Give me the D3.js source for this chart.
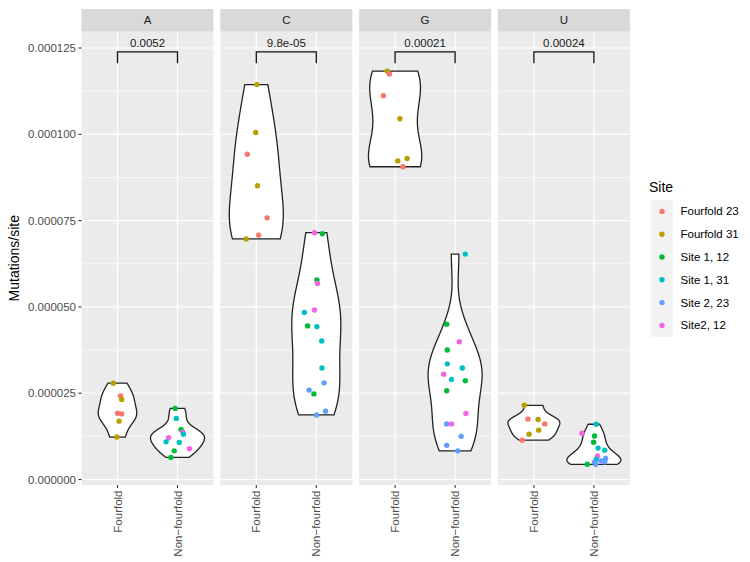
<!DOCTYPE html>
<html>
<head>
<meta charset="utf-8">
<script src="https://cdn.jsdelivr.net/npm/d3@7"></script>
<style>
  body { margin: 0; background: #fff; }
  text { font-family: "Liberation Sans", Arial, sans-serif; }
</style>
</head>
<body>
<div id="container"></div>
<script>
let w = 750;
let h = 562;

// categories
let bases = ["A", "C", "G", "U"];
let groups = ["Fourfold", "Non-fourfold"];
let sites = ["Fourfold 23", "Fourfold 31", "Site 1, 12", "Site 1, 31", "Site 2, 23", "Site2, 12"];
let siteColors = ["#F8766D", "#B79F00", "#00BA38", "#00BFC4", "#619CFF", "#F564E3"];
let pLabels = ["0.0052", "9.8e-05", "0.00021", "0.00024"];
let yTicks = [0, 0.000025, 0.00005, 0.000075, 0.0001, 0.000125];

// rows: [group, site, mutations/site, jitter (in category units)]
let ptsA = [
  [0,1,2.79e-5,-0.07],[0,0,2.42e-5,0.05],[0,1,2.32e-5,0.07],[0,0,1.92e-5,0.0],
  [0,0,1.90e-5,0.07],[0,1,1.69e-5,0.025],[0,1,1.23e-5,-0.01],
  [1,2,2.06e-5,-0.04],[1,3,1.77e-5,-0.02],[1,2,1.45e-5,0.06],[1,5,1.37e-5,0.09],
  [1,3,1.31e-5,0.10],[1,5,1.21e-5,-0.15],[1,3,1.09e-5,-0.19],[1,3,1.07e-5,0.03],
  [1,5,0.89e-5,0.20],[1,2,0.83e-5,-0.055],[1,2,0.64e-5,-0.11]
];
let ptsC = [
  [0,1,11.44e-5,0.01],[0,1,10.05e-5,-0.01],[0,0,9.42e-5,-0.15],[0,1,8.51e-5,0.02],
  [0,0,7.58e-5,0.18],[0,0,7.08e-5,0.04],[0,1,6.97e-5,-0.17],
  [1,5,7.15e-5,-0.03],[1,2,7.12e-5,0.10],[1,2,5.78e-5,0.01],[1,5,5.68e-5,0.02],
  [1,5,4.91e-5,-0.03],[1,3,4.84e-5,-0.20],[1,2,4.45e-5,-0.145],[1,3,4.43e-5,0.01],
  [1,3,4.01e-5,0.09],[1,3,3.23e-5,0.095],[1,4,2.80e-5,0.13],[1,4,2.59e-5,-0.12],
  [1,2,2.48e-5,-0.04],[1,4,1.98e-5,0.155],[1,4,1.87e-5,0.005]
];
let ptsG = [
  [0,1,11.83e-5,-0.13],[0,0,11.75e-5,-0.095],[0,0,11.12e-5,-0.195],[0,1,10.45e-5,0.08],
  [0,1,9.30e-5,0.20],[0,1,9.23e-5,0.045],[0,0,9.06e-5,0.13],
  [1,3,6.53e-5,0.17],[1,2,4.50e-5,-0.14],[1,5,3.99e-5,0.07],[1,2,3.75e-5,-0.13],
  [1,3,3.35e-5,-0.13],[1,3,3.23e-5,0.12],[1,5,3.05e-5,-0.19],[1,3,2.90e-5,-0.06],
  [1,2,2.86e-5,0.17],[1,2,2.57e-5,-0.14],[1,5,1.91e-5,0.18],[1,4,1.61e-5,-0.14],
  [1,5,1.61e-5,-0.06],[1,4,1.25e-5,0.10],[1,4,0.99e-5,-0.14],[1,4,0.83e-5,0.045]
];
let ptsU = [
  [0,1,2.15e-5,-0.16],[0,0,1.75e-5,-0.10],[0,1,1.74e-5,0.07],[0,0,1.61e-5,0.18],
  [0,1,1.43e-5,0.08],[0,1,1.31e-5,-0.08],[0,0,1.14e-5,-0.195],
  [1,3,1.60e-5,0.04],[1,5,1.34e-5,-0.20],[1,2,1.26e-5,0.01],[1,2,1.08e-5,-0.005],
  [1,3,0.91e-5,0.07],[1,3,0.85e-5,0.18],[1,5,0.68e-5,0.06],[1,4,0.61e-5,0.195],
  [1,3,0.58e-5,0.04],[1,4,0.54e-5,0.12],[1,4,0.51e-5,0.18],[1,4,0.50e-5,0.01],
  [1,2,0.44e-5,-0.11],[1,4,0.44e-5,0.03]
];
let allPts = [ptsA, ptsC, ptsG, ptsU];

// bracket height (data units) from the comparison layer
let bracketY = 1.239e-4;
let bracketTip = 1.206e-4;

let panelLeft = 81.5, panelW = 132, gap = 6.8;
let panelTop = 31.5, panelBottom = 485, stripTop = 9;

let viz = d3.select("#container")
  .append("svg")
    .attr("width", w)
    .attr("height", h)
    .style("background-color", "#ffffff");

let y = d3.scaleLinear().domain([0, 0.000125]).range([479.5, 48]);
let facetX = d3.scaleOrdinal().domain(bases)
  .range(bases.map((b, i) => panelLeft + i * (panelW + gap)));
let x = d3.scalePoint().domain(groups).range([0, panelW]).padding(0.6);
let unit = x.step();

// gaussian kde like R density(), bandwidth bw.nrd0, trimmed to the data range
function bwNrd0(v) {
  let s = v.slice().sort(d3.ascending);
  let sd = d3.deviation(s);
  let iqr = d3.quantile(s, 0.75) - d3.quantile(s, 0.25);
  let lo = Math.min(sd, iqr / 1.34);
  if (!(lo > 0)) lo = sd || Math.abs(s[0]) || 1;
  return 0.9 * lo * Math.pow(s.length, -0.2);
}
function kde(v) {
  let bw = bwNrd0(v);
  let mn = d3.min(v), mx = d3.max(v);
  let out = [];
  for (let k = 0; k < 512; k++) {
    let t = mn + (mx - mn) * k / 511;
    let dens = d3.sum(v, vi => Math.exp(-0.5 * Math.pow((t - vi) / bw, 2))) / (v.length * bw * Math.sqrt(2 * Math.PI));
    out.push([t, dens]);
  }
  return out;
}

let minorTicks = d3.range(0.0000125, 0.000125, 0.000025);

bases.forEach(function(b, bi) {
  let px = facetX(b);
  let g = viz.append("g").attr("transform", "translate(" + px + ",0)");

  // panel background and grid
  g.append("rect").attr("x", 0).attr("y", panelTop)
    .attr("width", panelW).attr("height", panelBottom - panelTop).attr("fill", "#ebebeb");
  g.selectAll(".minor").data(minorTicks).enter().append("line")
    .attr("x1", 0).attr("x2", panelW)
    .attr("y1", d => y(d)).attr("y2", d => y(d))
    .attr("stroke", "#ffffff").attr("stroke-width", 0.6);
  g.selectAll(".major").data(yTicks).enter().append("line")
    .attr("x1", 0).attr("x2", panelW)
    .attr("y1", d => y(d)).attr("y2", d => y(d))
    .attr("stroke", "#ffffff").attr("stroke-width", 1.2);
  g.selectAll(".vgrid").data(groups).enter().append("line")
    .attr("x1", d => x(d)).attr("x2", d => x(d))
    .attr("y1", panelTop).attr("y2", panelBottom)
    .attr("stroke", "#ffffff").attr("stroke-width", 1.2);

  // strip
  g.append("rect").attr("x", 0).attr("y", stripTop)
    .attr("width", panelW).attr("height", panelTop - stripTop).attr("fill", "#d9d9d9");
  g.append("text").text(b)
    .attr("x", panelW / 2).attr("y", (stripTop + panelTop) / 2 + 4)
    .attr("text-anchor", "middle").attr("font-size", 11.5).attr("fill", "#1a1a1a");

  // violins, area scaled within the panel
  let pts = allPts[bi];
  let dens = groups.map((gr, gi) => kde(pts.filter(p => p[0] == gi).map(p => p[2])));
  let maxD = d3.max(dens, d => d3.max(d, e => e[1]));
  groups.forEach(function(gr, gi) {
    let cx = x(gr);
    let dd = dens[gi];
    let half = e => e[1] / maxD * 0.45 * unit;
    let poly = dd.map(e => [cx + half(e), y(e[0])])
      .concat(dd.slice().reverse().map(e => [cx - half(e), y(e[0])]));
    g.append("path")
      .attr("d", d3.line()(poly) + "Z")
      .attr("fill", "#ffffff")
      .attr("stroke", "#222222")
      .attr("stroke-width", 1.3);
  });

  // points
  g.selectAll(".pt").data(pts).enter().append("circle")
    .attr("cx", d => x(groups[d[0]]) + d[3] * unit)
    .attr("cy", d => y(d[2]))
    .attr("r", 2.7)
    .attr("fill", d => siteColors[d[1]]);

  // comparison bracket
  let x0 = x(groups[0]), x1 = x(groups[1]);
  g.append("path")
    .attr("d", "M" + x0 + "," + y(bracketTip) + "V" + y(bracketY) + "H" + x1 + "V" + y(bracketTip))
    .attr("fill", "none").attr("stroke", "#111111").attr("stroke-width", 1.3);
  g.append("text").text(pLabels[bi])
    .attr("x", (x0 + x1) / 2).attr("y", y(bracketY) - 4.5)
    .attr("text-anchor", "middle").attr("font-size", 11.5).attr("fill", "#1a1a1a");

  // x axis ticks and labels
  g.selectAll(".xtick").data(groups).enter().append("line")
    .attr("x1", d => x(d)).attr("x2", d => x(d))
    .attr("y1", panelBottom).attr("y2", panelBottom + 3)
    .attr("stroke", "#333333").attr("stroke-width", 1.1);
  g.selectAll(".xlab").data(groups).enter().append("text")
    .text(d => d.replace("-", "\u2212"))
    .attr("transform", d => "translate(" + (x(d) + 4) + "," + (panelBottom + 5.5) + ") rotate(-90)")
    .attr("text-anchor", "end").attr("font-size", 11.5).attr("fill", "#4d4d4d");
});

// y axis
viz.selectAll(".ytick").data(yTicks).enter().append("line")
  .attr("x1", panelLeft - 3).attr("x2", panelLeft)
  .attr("y1", d => y(d)).attr("y2", d => y(d))
  .attr("stroke", "#333333").attr("stroke-width", 1.1);
viz.selectAll(".ylab").data(yTicks).enter().append("text")
  .text(d3.format(".6f"))
  .attr("x", panelLeft - 5.5).attr("y", d => y(d) + 4)
  .attr("text-anchor", "end").attr("font-size", 11.5).attr("fill", "#4d4d4d");
viz.append("text").text("Mutations/site")
  .attr("transform", "translate(19," + ((panelTop + panelBottom) / 2) + ") rotate(-90)")
  .attr("text-anchor", "middle").attr("font-size", 14).attr("fill", "#000000");

// legend
let legX = 651, legTop = 200, keyH = 22.8;
viz.append("text").text("Site")
  .attr("x", legX - 2).attr("y", legTop - 8)
  .attr("font-size", 14).attr("fill", "#000000");
let legend = viz.selectAll(".leg").data(sites).enter().append("g")
  .attr("transform", (d, i) => "translate(" + legX + "," + (legTop + i * keyH) + ")");
legend.append("rect").attr("width", 22).attr("height", keyH).attr("fill", "#f2f2f2");
legend.append("circle").attr("cx", 11).attr("cy", keyH / 2).attr("r", 2.7)
  .attr("fill", (d, i) => siteColors[i]);
legend.append("text").text(d => d)
  .attr("x", 29.5).attr("y", keyH / 2 + 4)
  .attr("font-size", 11.5).attr("fill", "#000000");
</script>
</body>
</html>
